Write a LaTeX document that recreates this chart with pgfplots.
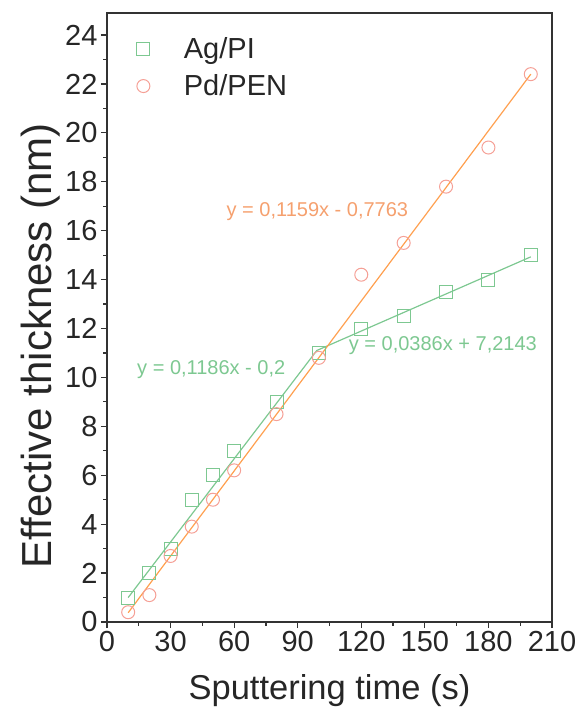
\documentclass[border=0pt]{standalone}
\usepackage{pgfplots}
\pgfplotsset{compat=1.18}
\usepackage{fontspec}
\setmainfont{Liberation Sans}

\definecolor{agcol}{RGB}{125,200,145}
\definecolor{pdline}{RGB}{255,160,80}
\definecolor{pdmark}{RGB}{245,160,150}
\definecolor{pdtext}{RGB}{245,160,110}

\begin{document}
\begin{tikzpicture}
\begin{axis}[
    scale only axis,
    width=445pt, height=609pt,
    xmin=0, xmax=210, ymin=0, ymax=24.9,
    xtick={0,30,...,210}, minor xtick={15,45,...,195},
    ytick={0,2,...,24}, minor ytick={1,3,...,23},
    tick align=outside,
    xtick pos=bottom, ytick pos=left,
    major tick length=6pt, minor tick length=3.5pt,
    every tick/.style={line width=1.2pt, black!80},
    axis line style={line width=2pt, black!80},
    tick label style={font=\fontsize{29}{31}\selectfont, text=black!85},
    /pgf/number format/assume math mode=true,
    xlabel={Sputtering time (s)}, ylabel={Effective thickness (nm)},
    xlabel style={font=\fontsize{34.5}{38}\selectfont, text=black!85, yshift=-16pt},
    ylabel style={font=\fontsize{42}{46}\selectfont, text=black!85, yshift=-2pt, xshift=-28pt},
    legend style={draw=none, fill=none, at={(0.06,0.967)}, anchor=north west,
        font=\fontsize{29}{32}\selectfont, text=black!85, row sep=11pt},
    legend cell align=left,
]
\addplot[only marks, mark=square, mark size=6.5pt, agcol, line width=1pt]
    coordinates {(10,1)(20,2)(30,3)(40,5)(50,6)(60,7)(80,9)(100,11)
                 (120,12)(140,12.5)(160,13.5)(180,14)(200,15)};
\addlegendentry{\hspace{32pt}Ag/PI}
\addplot[only marks, mark=o, mark size=6.5pt, pdmark, line width=1pt]
    coordinates {(10,0.4)(20,1.1)(30,2.7)(40,3.9)(50,5)(60,6.2)(80,8.5)(100,10.8)
                 (120,14.2)(140,15.5)(160,17.8)(180,19.4)(200,22.4)};
\addlegendentry{\hspace{32pt}Pd/PEN}
% fit lines
\addplot[agcol, line width=1.2pt, forget plot]
    coordinates {(10,1.0)(99,11.1)(200,14.93)};
\addplot[pdline, line width=1.2pt, forget plot]
    coordinates {(10,0.38)(200,22.4)};
\node[text=pdtext, font=\fontsize{20}{24}\selectfont] at (axis cs:99.3,16.76) {y = 0,1159x - 0,7763};
\node[text=agcol, font=\fontsize{20}{24}\selectfont] at (axis cs:49.2,10.34) {y = 0,1186x - 0,2};
\node[text=agcol, font=\fontsize{20}{24}\selectfont] at (axis cs:158.5,11.32) {y = 0,0386x + 7,2143};
\end{axis}
\path (current axis.south west) ++(-107pt,-94pt) rectangle ++(579pt,716pt);
\end{tikzpicture}
\end{document}
